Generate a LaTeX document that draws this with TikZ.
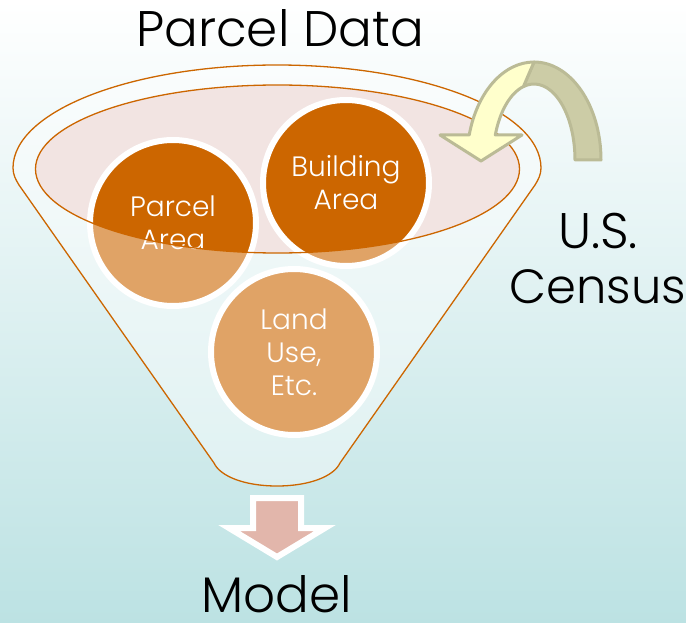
\documentclass[tikz,border=0pt]{standalone}
\usepackage{fontspec}
\setmainfont{Poppins Light}
\definecolor{dorange}{HTML}{CC6600}
\definecolor{pinkE}{HTML}{F2E4E2}
\definecolor{bgB}{HTML}{BCE2E3}
\definecolor{bgM}{HTML}{E4F2F3}
\definecolor{apink}{HTML}{E2B6AB}
\definecolor{ayellow}{HTML}{FFFFCC}
\definecolor{aolive}{HTML}{CCCCA6}
\definecolor{aborder}{HTML}{BBBB96}
\tikzset{
  bub/.style={circle, draw=white, line width=6pt, fill=dorange, minimum size=166pt, inner sep=0pt,
    text=white, align=center, font=\fontsize{28}{33}\selectfont},
  fline/.style={draw=dorange, line width=1.3pt},
  bigtext/.style={anchor=base, inner sep=0pt, text=black, font=\fontsize{50}{55}\selectfont},
  curvarr/.style={draw=aborder, line width=3pt, line join=round},
}
\begin{document}
\begin{tikzpicture}[x=1pt,y=1pt]
\useasboundingbox (0,0) rectangle (686,-623);
\clip (0,0) rectangle (686,-623);
\shade[top color=white, middle color=bgM, bottom color=bgB] (0,0) rectangle (686,-623);

% inner pink ellipse
\fill[pinkE] (277.5,-169) ellipse[x radius=242, y radius=84];

% circles
\node[bub] (pa) at (173,-223) {Parcel\\Area};
\node[bub] (ba) at (346,-183) {Building\\Area};
\node[bub] (lu) at (294,-352) {Land\\Use,\\Etc.};

% translucent funnel body over the circles (outside the inner ellipse)
\fill[white, opacity=0.4, even odd rule]
  (13,-168) arc[start angle=180, end angle=0, x radius=264, y radius=103]
  .. controls (541,-175) and (538,-180) .. (535,-185) -- (340,-463)
  .. controls (334,-476) and (310,-486) .. (277,-486)
  .. controls (244,-486) and (220,-476) .. (214,-463) -- (19,-185)
  .. controls (16,-180) and (13,-175) .. (13,-168) -- cycle
  (277.5,-169) ellipse[x radius=242, y radius=84];

% outlines
\draw[fline]
  (13,-168) arc[start angle=180, end angle=0, x radius=264, y radius=103]
  .. controls (541,-175) and (538,-180) .. (535,-185) -- (340,-463)
  .. controls (334,-476) and (310,-486) .. (277,-486)
  .. controls (244,-486) and (220,-476) .. (214,-463) -- (19,-185)
  .. controls (16,-180) and (13,-175) .. (13,-168) -- cycle;
\draw[fline] (277.5,-169) ellipse[x radius=242, y radius=84];

% curved arrow (U.S. Census)
\filldraw[curvarr, fill=aolive]
  (534,-62) arc[start angle=90, end angle=0, x radius=67, y radius=98]
  -- (575,-160) arc[start angle=0, end angle=105, x radius=41, y radius=76] -- cycle;
\filldraw[curvarr, fill=ayellow]
  (523.4,-86.6) -- (534,-62) arc[start angle=90, end angle=165.2, x radius=67, y radius=98]
  -- (440,-135) -- (481,-161) -- (522,-135) -- (495.3,-135)
  arc[start angle=160.8, end angle=105, x radius=41, y radius=76] -- cycle;

% down arrow
\filldraw[draw=white, fill=apink, line width=6pt, line join=miter]
  (253,-498) -- (301,-498) -- (301,-528) -- (325,-528) -- (277,-557)
  -- (229,-528) -- (253,-528) -- cycle;

% texts
\node[bigtext] (pd) at (280,-47) {Parcel Data};
\node[bigtext] (us) at (598,-248) {U.S.};
\node[bigtext, font=\fontsize{48}{55}\selectfont] (cen) at (598,-303) {Census};
\node[bigtext] (mod) at (277,-612) {Model};
\end{tikzpicture}
\end{document}
